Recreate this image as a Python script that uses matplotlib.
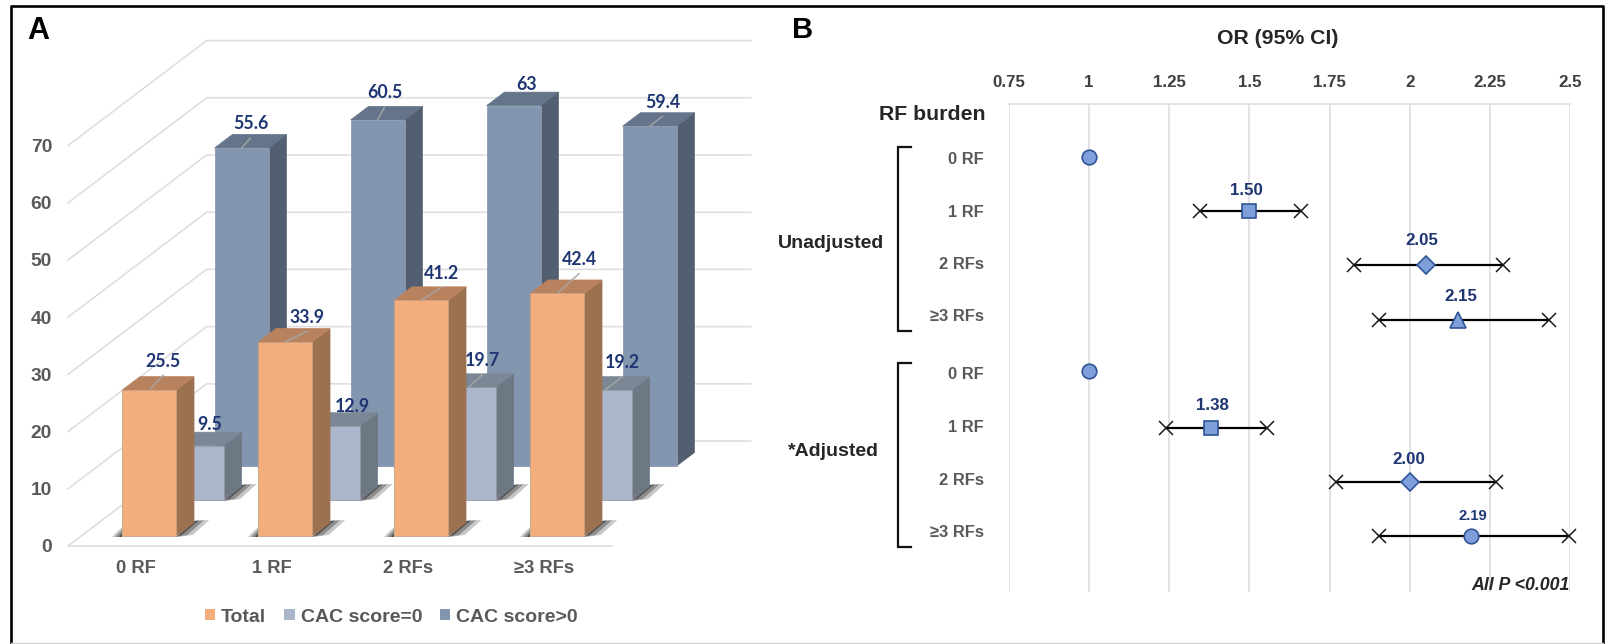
import matplotlib
matplotlib.use("Agg")
import matplotlib.pyplot as plt
from matplotlib.lines import Line2D
from matplotlib.patches import Patch, Polygon

plt.rcParams["font.family"] = ["Liberation Sans", "DejaVu Sans"]

W, H = 1610, 644

# Panel A data
categories = ["0 RF", "1 RF", "2 RFs", "≥3 RFs"]
series_names = ["Total", "CAC score=0", "CAC score>0"]
total = [25.5, 33.9, 41.2, 42.4]
cac_zero = [9.5, 12.9, 19.7, 19.2]
cac_pos = [55.6, 60.5, 63, 59.4]
a_ticks = [0, 10, 20, 30, 40, 50, 60, 70]

# Panel B data
or_ticks = [0.75, 1, 1.25, 1.5, 1.75, 2, 2.25, 2.5]
row_labels = ["0 RF", "1 RF", "2 RFs", "≥3 RFs"] * 2
or_value = [1, 1.50, 2.05, 2.15, 1, 1.38, 2.00, 2.19]
or_low = [None, 1.345, 1.825, 1.905, None, 1.24, 1.77, 1.905]
or_high = [None, 1.66, 2.29, 2.435, None, 1.555, 2.27, 2.497]
or_text = [None, "1.50", "2.05", "2.15", None, "1.38", "2.00", "2.19"]
or_row = [0, 1, 2, 3, 3.95, 5, 6, 7]
label_row = [0.02, 0.99, 1.95, 2.92, 3.98, 4.97, 5.95, 6.91]

NAVY = "#1F3673"
GREY = "#595959"
GRID = "#DEDEDE"

fig = plt.figure(figsize=(W / 100, H / 100), dpi=100)


def axes_px(x0, y0, x1, y1):
    return fig.add_axes([x0 / W, 1 - y1 / H, (x1 - x0) / W, (y1 - y0) / H])


# ── Panel A: fake 3D bars ────────────────────────────────────────────────
PX_X = 1 / 136.0   # one pixel in category units
PX_Y = 1 / 5.72    # one pixel in value units
SLANT = 1.32       # sideways pixels per pixel of depth
BAR_W = 54 * PX_X
BAR_D = 13.5

ax_a = axes_px(68, 5, 770, 546)
ax_a.set_xlim(-0.5, -0.5 + 702 * PX_X)
ax_a.set_ylim(0, 541 * PX_Y)
ax_a.set_facecolor("none")
for side in ax_a.spines.values():
    side.set_visible(False)


def proj(cat, depth, val):
    return cat + depth * SLANT * PX_X, val + depth * PX_Y


# gridlines: side wall, back wall
for v in a_ticks:
    pts = [proj(-0.5, 0, v), proj(-0.5, 105, v), proj(3.5, 105, v)]
    ax_a.plot(*zip(*pts), color=GRID, lw=1.2, zorder=1, clip_on=False)
ax_a.plot(*zip(proj(-0.5, 0, 0), proj(3.5, 0, 0)), color=GRID, lw=1.2, zorder=1, clip_on=False)


def draw_bar(i, depth, val, front, side, top, edge, z, shadow=True):
    l, r = i - BAR_W / 2, i + BAR_W / 2
    d2 = depth + BAR_D
    if shadow:
        x0, y0 = proj(r, depth, 0)
        xl, _ = proj(l, depth, 0)
        for grow, alpha in [(15, 0.25), (10, 0.35), (5, 0.5)]:
            pts = [(x0, y0 - 1 * PX_Y), (x0 + 18 * PX_X, y0 + 15 * PX_Y),
                   (x0 + (18 + grow) * PX_X, y0 + 16 * PX_Y), (x0 + grow * 1.1 * PX_X, y0 + 1 * PX_Y)]
            ax_a.add_patch(Polygon(pts, fc="#222222", ec="none", alpha=alpha, zorder=z, clip_on=False))
            pts = [(xl - grow * 0.7 * PX_X, y0 - 1 * PX_Y), (xl, y0 - 1 * PX_Y), (xl, y0 + grow * 0.6 * PX_Y)]
            ax_a.add_patch(Polygon(pts, fc="#222222", ec="none", alpha=alpha, zorder=z, clip_on=False))
    ax_a.add_patch(Polygon([proj(r, depth, 0), proj(r, d2, 0), proj(r, d2, val), proj(r, depth, val)],
                           fc=side, ec=side, lw=0.5, zorder=z, clip_on=False))
    ax_a.add_patch(Polygon([proj(l, depth, val), proj(r, depth, val), proj(r, d2, val), proj(l, d2, val)],
                           fc=top, ec=top, lw=0.5, zorder=z, clip_on=False))
    ax_a.add_patch(Polygon([proj(l, depth, 0), proj(r, depth, 0), proj(r, depth, val), proj(l, depth, val)],
                           fc=front, ec=edge, lw=0.6, zorder=z, clip_on=False))


def draw_label(i, depth, val, nudge):
    x, y = proj(i, depth, val)
    nx, ny = nudge
    if ny <= -24:
        ax_a.annotate("", xy=(x, y), xytext=(nx * 0.72, (-ny - 14) * 0.72),
                      textcoords="offset points", zorder=90,
                      arrowprops=dict(arrowstyle="-", color="#A6A6A6", lw=1, shrinkA=0, shrinkB=0))
    ax_a.annotate(f"{val}", (x, y), xytext=(nx * 0.72, -ny * 0.72), textcoords="offset points",
                  ha="center", va="center", color=NAVY, fontsize=12.8, fontweight="bold",
                  family=["Lato", "DejaVu Sans"], zorder=100)


rows = [
    (80, cac_pos, "#8296AF", "#535F70", "#64748A", "#8C9BB0", False,
     [(9, -24), (7, -27), (13, -21), (13, -24)]),
    (46, cac_zero, "#AAB7CB", "#6E7784", "#7B8794", "#8F98A6", True,
     [(13, -21), (20, -20), (14, -27), (18, -28)]),
    (10, total, "#F4AE7E", "#9B7150", "#B9825F", "#C9A083", True,
     [(14, -29), (22, -25), (20, -27), (22, -34)]),
]
z = 3
for depth, vals, c_front, c_side, c_top, c_edge, shadow, nudges in rows:
    for i, v in enumerate(vals):
        draw_bar(i, depth, v, c_front, c_side, c_top, c_edge, z, shadow)
        draw_label(i, depth, v, nudges[i])
        z += 1

ax_a.set_xticks(range(len(categories)))
ax_a.set_xticklabels(categories, fontsize=13.2, fontweight="bold", color=GREY)
ax_a.set_yticks(a_ticks)
ax_a.set_yticklabels([str(t) for t in a_ticks], fontsize=13.8, fontweight="bold", color=GREY)
ax_a.tick_params(axis="x", length=0, pad=10)
ax_a.tick_params(axis="y", length=0, pad=11.5)

handles = [Patch(fc=c, ec="none") for c in ["#F4AE7E", "#AAB7CB", "#8296AF"]]
fig.legend(handles, series_names, ncol=3, frameon=False, loc="center",
           bbox_to_anchor=(391.5 / W, 1 - 617 / H), prop={"size": 14, "weight": "bold"},
           labelcolor=GREY, handlelength=0.52, handleheight=0.52, handletextpad=0.31,
           columnspacing=0.93, borderpad=0)

# ── Panel B: forest plot ─────────────────────────────────────────────────
ax_b = axes_px(1009, 104, 1570, 592)
ax_b.set_xlim(0.75, 2.5)
ax_b.set_ylim(8.03, -0.98)
ax_b.xaxis.tick_top()
ax_b.set_xticks(or_ticks)
ax_b.set_xticklabels([f"{t:g}" for t in or_ticks], fontsize=12.2, fontweight="bold", color="#404040")
ax_b.set_yticks(label_row)
ax_b.set_yticklabels(row_labels, fontsize=11.9, fontweight="bold", color=GREY)
ax_b.tick_params(axis="both", length=0)
ax_b.tick_params(axis="x", pad=10)
ax_b.tick_params(axis="y", pad=18)
ax_b.grid(axis="x", color=GRID, lw=1.2)
ax_b.set_axisbelow(True)
for name, side in ax_b.spines.items():
    side.set_visible(name == "top")
    side.set_color(GRID)
    side.set_linewidth(1.2)

markers = ["o", "s", "D", "^", "o", "s", "D", "o"]
sizes = [10.5, 10.5, 9, 11.5, 10.5, 10.5, 9, 10.5]
nudges_b = [None, (-3, 21), (-4, 25), (3, 23), None, (1, 22), (-1, 23), (2, 20)]
for k, v in enumerate(or_value):
    row = or_row[k]
    if or_low[k] is not None:
        ax_b.plot([or_low[k], or_high[k]], [row, row], color="black", lw=1.6, zorder=3)
        ax_b.plot([or_low[k], or_high[k]], [row, row], ls="none", marker="x", ms=9.5, mew=1.1,
                  color="#1a1a1a", zorder=3, clip_on=False)
    ax_b.plot([v], [row], marker=markers[k], ms=sizes[k], mfc="#7F9FDB", mec="#2F5597", mew=1.2,
              ls="none", zorder=4)
    if or_text[k]:
        ax_b.annotate(or_text[k], (v, row), xytext=(nudges_b[k][0] * 0.72, nudges_b[k][1] * 0.72),
                      textcoords="offset points", ha="center", va="center", color=NAVY,
                      fontsize=10.6 if or_text[k] == "2.19" else 12.2, fontweight="bold")

# brackets for the two groups
for top, bottom in [(-0.18, 3.22), (3.8, 7.2)]:
    ax_b.plot([0.444, 0.403, 0.403, 0.444], [top, top, bottom, bottom], color="#111111",
              lw=1.6, clip_on=False, solid_joinstyle="miter")

# ── Free text and frame ──────────────────────────────────────────────────
def label(x, y, s, **kw):
    fig.text(x / W, 1 - (y + 2) / H, s, fontweight=kw.pop("fontweight", "bold"), va="center", **kw)


label(27, 29, "A", fontsize=22, color="black")
label(792, 28, "B", fontsize=21, color="black")
label(1278, 37, "OR (95% CI)", fontsize=15.3, color="#262626", ha="center")
label(986, 113, "RF burden", fontsize=15.3, color="#262626", ha="right")
label(884, 241, "Unadjusted", fontsize=14, color="#262626", ha="right")
label(879, 450, "*Adjusted", fontsize=14, color="#262626", ha="right")
label(1570, 584, "All P <0.001", fontsize=12.8, color="#262626", ha="right", style="italic")

for xs, ys, col, lw in [
    ([11, 11, 1603, 1603], [644, 6, 6, 644], "black", 1.9),
    ([11, 1603], [643, 643], "#D0D0D0", 1),
]:
    fig.add_artist(Line2D([x / W for x in xs], [1 - y / H for y in ys], color=col, lw=lw))

fig.savefig("out.png", dpi=100)
